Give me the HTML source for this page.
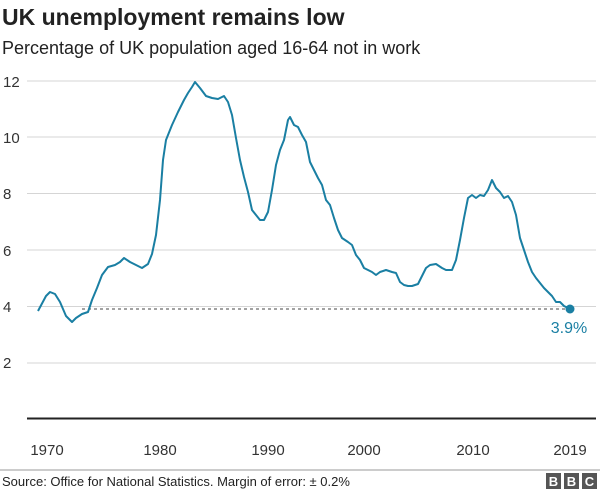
<!DOCTYPE html>
<html><head><meta charset="utf-8"><style>
body{margin:0;background:#fff;font-family:"Liberation Sans",Arial,sans-serif;}
</style></head><body>
<svg width="600" height="492" xmlns="http://www.w3.org/2000/svg" font-family="Liberation Sans, Arial, sans-serif">
<text x="2" y="25" font-size="23" font-weight="bold" fill="#222">UK unemployment remains low</text>
<text x="2" y="54" font-size="18" fill="#222">Percentage of UK population aged 16-64 not in work</text>
<g stroke="#d5d5d5" stroke-width="1">
<line x1="27" x2="596" y1="81" y2="81"/><line x1="27" x2="596" y1="137" y2="137"/>
<line x1="27" x2="596" y1="193.5" y2="193.5"/><line x1="27" x2="596" y1="250" y2="250"/>
<line x1="27" x2="596" y1="306.5" y2="306.5"/><line x1="27" x2="596" y1="363" y2="363"/>
</g>
<g font-size="15" fill="#333">
<text x="3" y="87">12</text><text x="3" y="143">10</text><text x="3" y="199">8</text>
<text x="3" y="256">6</text><text x="3" y="312">4</text><text x="3" y="368">2</text>
</g>
<line x1="27" x2="596" y1="418.5" y2="418.5" stroke="#222" stroke-width="2"/>
<g font-size="15" fill="#333" text-anchor="middle">
<text x="47" y="455">1970</text><text x="160" y="455">1980</text><text x="268" y="455">1990</text>
<text x="364" y="455">2000</text><text x="473" y="455">2010</text><text x="570" y="455">2019</text>
</g>
<line x1="82" x2="570" y1="309" y2="309" stroke="#444" stroke-width="1" stroke-dasharray="3,3"/>
<polyline fill="none" stroke="#1a7fa3" stroke-width="2" stroke-linejoin="round" points="38,311 46,296 50,292 55,294 60,302 66,316 72,322 76,318 82,314 88,312 92,300 97,288 102,275 108,267 115,265 120,262 124,258 130,262 136,265 142,268 148,264 152,254 156,235 160,200 163,160 166,140 172,125 178,112 184,100 188,93 192,87 195,82 200,88 206,96 212,98 218,99 222,97 224,96 228,102 232,115 236,138 240,160 244,177 248,192 252,210 256,215 260,220 264,220 268,212 272,190 276,165 280,150 284,140 288,120 290,117 294,125 298,127 302,135 306,142 310,162 314,170 318,178 322,185 326,200 330,205 334,218 338,230 342,238 348,242 352,245 356,255 360,260 364,268 368,270 372,272 376,275 380,272 386,270 392,272 396,273 400,282 404,285 408,286 412,286 418,284 422,276 426,268 430,265 436,264 442,268 446,270 452,270 456,260 460,240 464,218 468,198 472,195 476,198 480,195 484,196 488,190 492,180 496,188 500,192 504,198 508,196 512,202 516,215 520,238 524,250 528,262 532,272 536,278 540,283 544,288 548,292 552,296 556,302 560,302 564,306 570,309"/>
<circle cx="570" cy="309" r="4.5" fill="#1a7fa3"/>
<text x="569" y="333" font-size="16" fill="#1a7fa3" text-anchor="middle">3.9%</text>
<line x1="0" x2="600" y1="470" y2="470" stroke="#999" stroke-width="1"/>
<text x="2" y="486" font-size="13" fill="#222">Source: Office for National Statistics. Margin of error: ± 0.2%</text>
<g fill="#555">
<rect x="546" y="473" width="15" height="16"/><rect x="564" y="473" width="15" height="16"/><rect x="582" y="473" width="15" height="16"/>
</g>
<g fill="#fff" font-size="13" font-weight="bold" text-anchor="middle">
<text x="553.5" y="486">B</text><text x="571.5" y="486">B</text><text x="589.5" y="486">C</text>
</g>
</svg>
</body></html>
